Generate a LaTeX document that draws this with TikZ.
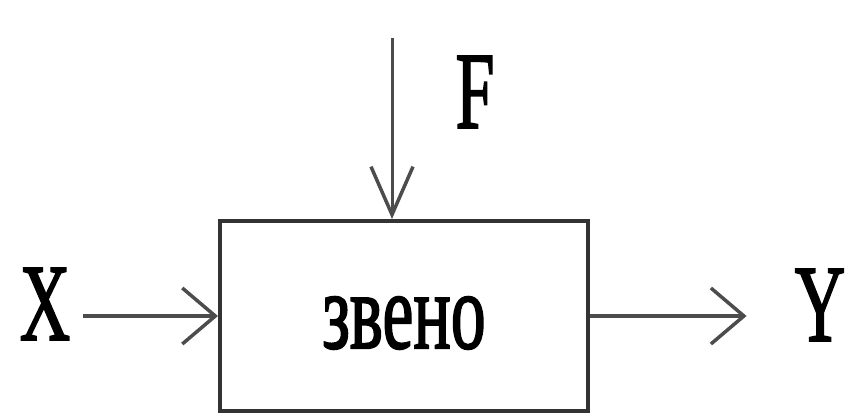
\documentclass[tikz,border=0pt]{standalone}
\usepackage{fontspec}
\setmainfont{Liberation Serif}
\newfontfamily\lblfont[FakeBold=2]{Liberation Serif}
\usetikzlibrary{arrows.meta}
\begin{document}
\begin{tikzpicture}[x=1pt,y=-1pt,
  lbl/.style={inner sep=0pt, font=\fontsize{109}{120}\lblfont},
  blockbox/.style={draw=black!80, line width=4pt, minimum width=368pt, minimum height=190pt, inner sep=0pt},
  harrow/.style={draw=black!70, line width=4pt, -{Straight Barb[length=33pt,width=56pt,line width=3.5pt]}},
  varrow/.style={draw=black!70, line width=3pt, -{Straight Barb[length=48pt,width=42pt,line width=3.5pt]}}]
\useasboundingbox (0,0) rectangle (856,418);
\node[blockbox] (box) at (404,316) {};
\node[lbl] (txt) at (404,323) {\scalebox{0.64}[1]{звено}};
\node[lbl] (X) at (45,304) {\scalebox{0.64}[1]{X}};
\node[lbl] (Y) at (820,305) {\scalebox{0.64}[1]{Y}};
\node[lbl] (F) at (475,92) {\scalebox{0.64}[1]{F}};
\coordinate (ftop) at (392,38);
\draw[harrow, shorten <=13pt] (X.east |- box.west) -- (box.west);
\draw[harrow, shorten >=48pt] (box.east) -- (box.east -| Y.west);
\draw[varrow] (ftop) -- (ftop |- box.north);
\end{tikzpicture}
\end{document}
